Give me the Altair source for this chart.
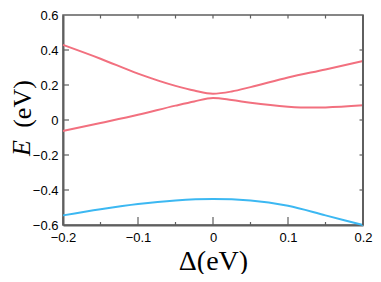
import altair as alt
import pandas as pd

# Data
upper_x = [-0.2, -0.15, -0.1, -0.05, -0.025, 0.0, 0.025, 0.05, 0.1, 0.15, 0.2]
upper_y = [0.429, 0.350, 0.265, 0.195, 0.168, 0.150, 0.163, 0.188, 0.243, 0.289, 0.337]

lower_x = [-0.2, -0.15, -0.1, -0.05, -0.025, 0.0, 0.025, 0.05, 0.1, 0.13, 0.15, 0.2]
lower_y = [-0.063, -0.017, 0.030, 0.082, 0.106, 0.126, 0.114, 0.098, 0.076, 0.071, 0.072, 0.084]

blue_x = [-0.2, -0.15, -0.1, -0.05, 0.0, 0.05, 0.1, 0.15, 0.2]
blue_y = [-0.545, -0.510, -0.480, -0.460, -0.452, -0.460, -0.490, -0.545, -0.600]

x_major = [-0.2, -0.1, 0.0, 0.1, 0.2]
x_minor = [-0.15, -0.05, 0.05, 0.15]
x_top = [-0.15, -0.1, -0.05, 0.0, 0.05, 0.1, 0.15]
y_labels = [-0.6, -0.4, -0.2, 0.0, 0.2, 0.4, 0.6]
y_ticks = [-0.4, -0.2, 0.0, 0.2, 0.4]

RED = "#f2707f"
BLUE = "#3cb8f2"
AX = "#5f5f5f"

rows = []
for name, xs_, ys_ in [("upper", upper_x, upper_y), ("lower", lower_x, lower_y), ("blue", blue_x, blue_y)]:
    for a, b in zip(xs_, ys_):
        rows.append({"d": a, "E": b, "s": name})
df = pd.DataFrame(rows)

W, H = 300, 210
xs = alt.Scale(domain=[-0.2, 0.2], nice=False, zero=False)
ys = alt.Scale(domain=[-0.6, 0.6], nice=False, zero=False)
LBL = "datum.value == 0 ? '0' : format(datum.value, '.1f')"

xaxis = alt.Axis(values=x_major, title="Δ(eV)", tickSize=0,
                 labelPadding=6, labelFont="Liberation Sans", labelFontSize=13,
                 labelColor="black", labelFlush=False, labelOverlap=False,
                 titleFont="Liberation Serif", titleFontSize=28,
                 titleFontWeight="normal", titleColor="black", titlePadding=3,
                 domainColor=AX, domainWidth=2, grid=False, labelExpr=LBL)
yaxis = alt.Axis(values=y_labels, title=None, tickSize=0,
                 labelPadding=5, labelFont="Liberation Sans", labelFontSize=13,
                 labelColor="black", labelFlush=False, labelOverlap=False,
                 domainColor=AX, domainWidth=2, grid=False, labelExpr=LBL)

lines = alt.Chart(df).mark_line(strokeWidth=2, interpolate="monotone").encode(
    x=alt.X("d:Q", scale=xs, axis=xaxis),
    y=alt.Y("E:Q", scale=ys, axis=yaxis),
    color=alt.Color("s:N", scale=alt.Scale(domain=["upper", "lower", "blue"], range=[RED, RED, BLUE]),
                    legend=None),
    detail="s:N",
)

def xticks(vals, y0, y1):
    return alt.Chart(pd.DataFrame({"d": vals})).mark_rule(color=AX, strokeWidth=1.2).encode(
        x=alt.X("d:Q", scale=xs, axis=xaxis), y=alt.value(y0), y2=alt.value(y1))

def yticks(vals, x0, x1):
    return alt.Chart(pd.DataFrame({"E": vals})).mark_rule(color=AX, strokeWidth=1.2).encode(
        y=alt.Y("E:Q", scale=ys, axis=yaxis), x=alt.value(x0), x2=alt.value(x1))

ticks = [
    xticks(x_major, H, H - 8),
    xticks(x_minor, H, H - 3),
    xticks(x_top, 0, 3.5),
    yticks(y_ticks, 0, 6),
    yticks(y_ticks, W, W - 3.5),
]

frame_right = alt.Chart(pd.DataFrame({"v": [0]})).mark_rule(color=AX, strokeWidth=2).encode(
    x=alt.value(W), y=alt.value(0), y2=alt.value(H))

ylab_unit = alt.Chart(pd.DataFrame({"t": ["(eV)"]})).mark_text(
    font="Liberation Serif", fontSize=26, angle=270, align="center", baseline="middle", color="black"
).encode(text="t:N", x=alt.value(-40), y=alt.value(89))

ylab_E = alt.Chart(pd.DataFrame({"t": ["E"]})).mark_text(
    font="Liberation Serif", fontSize=26, fontStyle="italic", angle=270, align="center",
    baseline="middle", color="black"
).encode(text="t:N", x=alt.value(-41), y=alt.value(133))

chart = alt.layer(lines, *ticks, frame_right, ylab_unit, ylab_E).properties(
    width=W, height=H,
    autosize=alt.AutoSizeParams(type="none"),
    padding={"left": 55, "top": 7, "right": 10, "bottom": 49},
).configure_view(stroke=AX, strokeWidth=1.5)

chart.save("out.html", embed_options={"renderer": "svg", "actions": False})
